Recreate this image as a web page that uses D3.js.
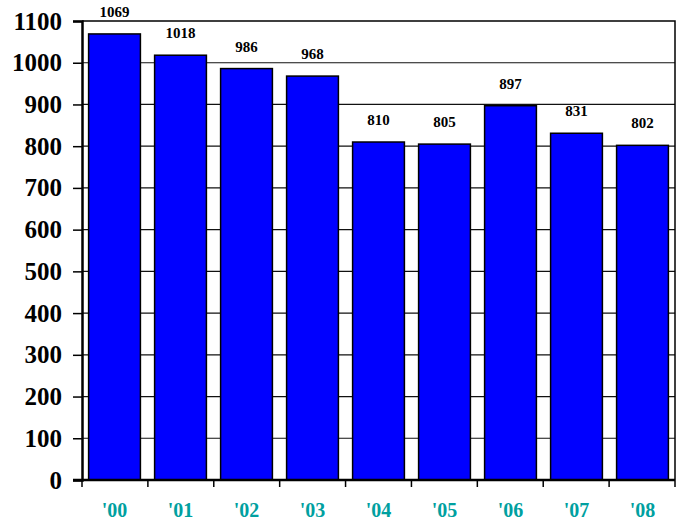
<!DOCTYPE html>
<html>
<head>
<meta charset="utf-8">
<script src="https://cdn.jsdelivr.net/npm/d3@7"></script>
<style>
  html, body { margin: 0; padding: 0; background: #fff; }
  svg { display: block; }
</style>
</head>
<body>
<svg id="chart" width="680" height="522"></svg>
<script>
// Yearly totals
const years = ["'00", "'01", "'02", "'03", "'04", "'05", "'06", "'07", "'08"];
const values = [1069, 1018, 986, 968, 810, 805, 897, 831, 802];
const yTicks = [0, 100, 200, 300, 400, 500, 600, 700, 800, 900, 1000, 1100];

const svg = d3.select("#chart");
const m = { left: 82, right: 5, top: 21, bottom: 42 };
const W = 680, H = 522;
const x0 = m.left, x1 = W - m.right, y0 = H - m.bottom, y1 = m.top;

const x = d3.scaleBand().domain(years).range([x0, x1]).paddingInner(0.215).paddingOuter(0.1);
const y = d3.scaleLinear().domain([0, 1100]).range([y0, y1]);
const serif = "'Liberation Serif', 'Times New Roman', serif";

// horizontal gridlines
svg.append("g").selectAll("line").data(yTicks.filter(d => d > 0 && d < 1100)).join("line")
  .attr("x1", x0).attr("x2", x1)
  .attr("y1", d => y(d)).attr("y2", d => y(d))
  .attr("stroke", "#111").attr("stroke-width", 1.2);

// plot frame (top and right)
svg.append("path")
  .attr("d", `M${x0},${y1}H${x1}V${y0}`)
  .attr("fill", "none").attr("stroke", "#000").attr("stroke-width", 1.5);

// bars
svg.append("g").selectAll("rect").data(values).join("rect")
  .attr("x", (d, i) => x(years[i]))
  .attr("width", x.bandwidth())
  .attr("y", d => y(d))
  .attr("height", d => y(0) - y(d))
  .attr("fill", "#0000ff")
  .attr("stroke", "#000").attr("stroke-width", 1.5);

// value labels
svg.append("g").selectAll("text").data(values).join("text")
  .attr("x", (d, i) => x(years[i]) + x.bandwidth() / 2)
  .attr("y", d => y(d) - 17)
  .attr("text-anchor", "middle")
  .attr("font-family", serif).attr("font-weight", "bold").attr("font-size", 15)
  .attr("fill", "#000")
  .text(d => d);

// y axis
const yAxis = svg.append("g").attr("transform", `translate(${x0},0)`)
  .call(d3.axisLeft(y).tickValues(yTicks).tickSize(9).tickPadding(11).tickFormat(d3.format("d")));
yAxis.select(".domain").attr("stroke", "#000").attr("stroke-width", 2.5);
yAxis.selectAll(".tick line").attr("stroke", "#000").attr("stroke-width", 1.5);
yAxis.selectAll("text")
  .attr("font-family", serif).attr("font-weight", "bold").attr("font-size", 25).attr("fill", "#000");

// x axis: ticks at category boundaries
const bounds = d3.range(years.length + 1).map(i => x0 + i * (x1 - x0) / years.length);
const xg = svg.append("g");
xg.append("line").attr("x1", x0 - 9).attr("x2", x1).attr("y1", y0).attr("y2", y0)
  .attr("stroke", "#000").attr("stroke-width", 2.5);
xg.selectAll("line.t").data(bounds).join("line").attr("class", "t")
  .attr("x1", d => d).attr("x2", d => d)
  .attr("y1", y0).attr("y2", y0 + 7)
  .attr("stroke", "#000").attr("stroke-width", 1.5);
xg.selectAll("text").data(years).join("text")
  .attr("x", d => x(d) + x.bandwidth() / 2)
  .attr("y", y0 + 37)
  .attr("text-anchor", "middle")
  .attr("font-family", serif).attr("font-weight", "bold").attr("font-size", 20)
  .attr("fill", "#00a0a0")
  .text(d => d);
</script>
</body>
</html>
